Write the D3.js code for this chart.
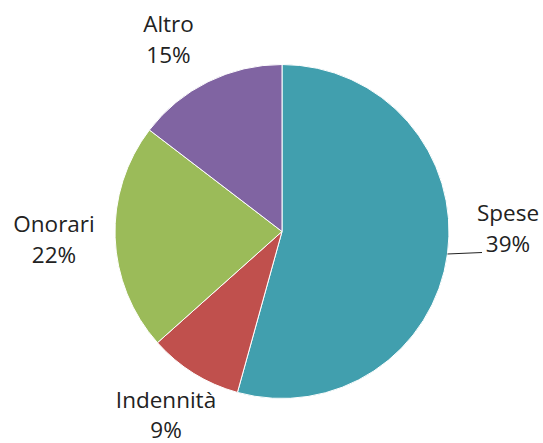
<!DOCTYPE html>
<html>
<head>
<meta charset="utf-8">
<script src="https://cdn.jsdelivr.net/npm/d3@7/dist/d3.min.js"></script>
<style>
html,body{margin:0;padding:0;background:#fff;}
svg{display:block;}
text{font-family:"Open Sans",sans-serif;font-size:22.5px;fill:#222;}
</style>
</head>
<body>
<svg id="chart" width="543" height="443"></svg>
<script>
// Data
const categories = ["Spese", "Indennità", "Onorari", "Altro"];
const sliceValues = [54.3, 9.1, 22.0, 14.6];          // slice sizes as drawn
const percentLabels = ["39%", "9%", "22%", "15%"];    // labels as printed
const colors = ["#419FAE", "#C0504D", "#9BBB59", "#8064A2"];

const svg = d3.select("#chart");
const cx = 282, cy = 231.5, r = 167;
const g = svg.append("g").attr("transform", `translate(${cx},${cy})`);

const pie = d3.pie().sort(null).value(d => d.v);
const data = categories.map((c, i) => ({c, v: sliceValues[i], p: percentLabels[i], col: colors[i]}));
const arcs = pie(data);
const arc = d3.arc().innerRadius(0).outerRadius(r);

g.selectAll("path").data(arcs).enter().append("path")
  .attr("d", arc)
  .attr("fill", d => d.data.col)
  .attr("stroke", "#fff")
  .attr("stroke-width", 1);

// label positions (centre x, baseline of first line, line spacing) relative to centre
const labelPos = {
  "Spese":     [226, -11, 31.6],
  "Indennità": [-116, 176, 30],
  "Onorari":   [-228, 0, 31.6],
  "Altro":     [-113.5, -200, 31.6]
};

arcs.forEach(a => {
  const [lx, ly, lh] = labelPos[a.data.c];
  const t = g.append("text").attr("text-anchor", "middle");
  t.append("tspan").attr("x", lx).attr("y", ly).text(a.data.c);
  t.append("tspan").attr("x", lx).attr("y", ly + lh).text(a.data.p);
});

// leader line for Spese
const sp = arcs[0];
const mid = (sp.startAngle + sp.endAngle) / 2;
const ex = Math.sin(mid) * r, ey = -Math.cos(mid) * r;
g.append("line")
  .attr("x1", ex).attr("y1", ey)
  .attr("x2", 200).attr("y2", 21)
  .attr("stroke", "#222").attr("stroke-width", 1);
</script>
</body>
</html>
